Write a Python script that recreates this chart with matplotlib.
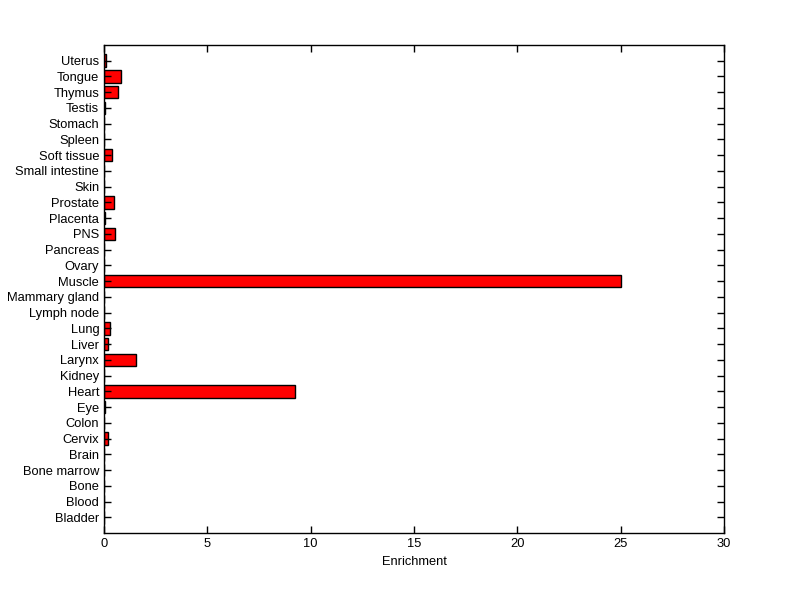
import matplotlib
matplotlib.use("Agg")
from matplotlib import pyplot as plt

tissues = ["Bladder", "Blood", "Bone", "Bone marrow", "Brain", "Cervix", "Colon",
           "Eye", "Heart", "Kidney", "Larynx", "Liver", "Lung", "Lymph node",
           "Mammary gland", "Muscle", "Ovary", "Pancreas", "PNS", "Placenta",
           "Prostate", "Skin", "Small intestine", "Soft tissue", "Spleen",
           "Stomach", "Testis", "Thymus", "Tongue", "Uterus"]
enrichment = [0, 0, 0, 0, 0, 0.19, 0, 0.05, 9.22, 0, 1.55, 0.19, 0.29, 0, 0,
              25.0, 0, 0, 0.55, 0.05, 0.50, 0, 0, 0.40, 0, 0, 0.05, 0.69, 0.83, 0.12]

plt.rcParams['font.family'] = ['Liberation Sans', 'DejaVu Sans']

fig = plt.figure(figsize=(8, 5.99), dpi=100)
ax = fig.add_axes([0.13, 0.11, 0.775, 0.815])

pos = range(1, len(tissues) + 1)
ax.barh(pos, enrichment, height=0.8, color='red', edgecolor='black', linewidth=1)

ax.set_xlim(0, 30)
ax.set_ylim(0, len(tissues) + 1)
ax.set_xticks(range(0, 31, 5))
ax.set_yticks(list(pos))
ax.set_yticklabels(tissues)
ax.set_xlabel("Enrichment", fontsize=9.3)

ax.tick_params(direction='in', top=True, right=True, labelsize=9.3, length=5, width=1)
for s in ax.spines.values():
    s.set_linewidth(1)

fig.savefig("out.png", dpi=100, facecolor='white')
